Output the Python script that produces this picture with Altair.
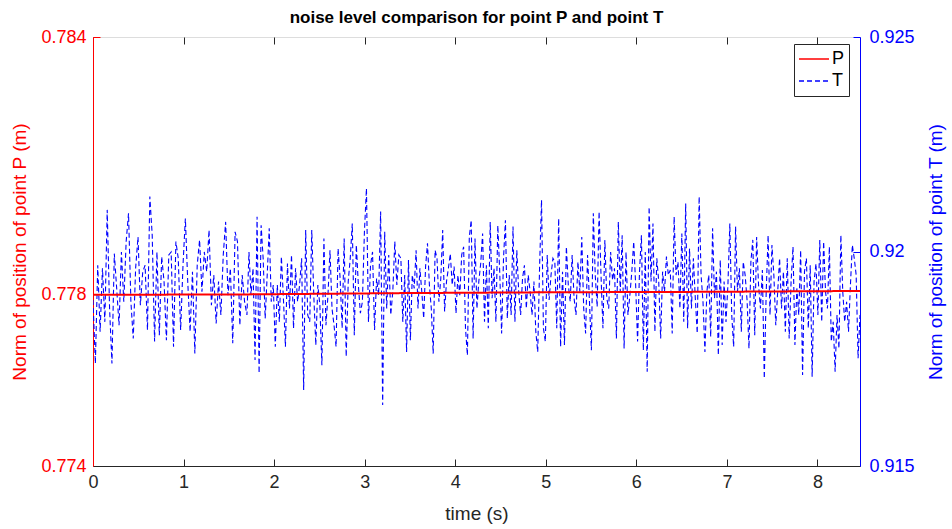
import altair as alt
import numpy as np
import pandas as pd

chart_title = "noise level comparison for point P and point T"
x_title = "time (s)"
left_title = "Norm of position of point P (m)"
right_title = "Norm of position of point T (m)"

# time span of each read segment (s)
seg_bounds = [0.0, 1.70, 3.40, 5.10, 6.80, 8.47]

# Norm of position of point T (m), read segment by segment
T_seg1 = [0.91887, 0.91739, 0.91968, 0.91813, 0.91961, 0.91836, 0.92097, 0.91867, 0.91739, 0.91995,
          0.91914, 0.91828, 0.91999, 0.91883, 0.92023, 0.92089, 0.91883, 0.91797, 0.91961, 0.92034,
          0.91875, 0.91953, 0.91968, 0.91817, 0.92128, 0.92038, 0.91790, 0.91999, 0.91805, 0.91988,
          0.91930, 0.91793, 0.91992, 0.91999, 0.91778, 0.92023, 0.91984, 0.91817, 0.91968, 0.92077,
          0.91930, 0.91813, 0.91953, 0.91762, 0.91968, 0.92027, 0.91906, 0.91999, 0.91953, 0.92050,
          0.91875, 0.91945, 0.91832, 0.91930, 0.91852, 0.91992, 0.92069, 0.91898, 0.91961, 0.91786,
          0.92046, 0.92023, 0.91828, 0.91945, 0.91883]
T_seg2 = [0.91852, 0.91999, 0.91898, 0.91961, 0.91747, 0.92081, 0.91716, 0.92061, 0.91984, 0.91844,
          0.91945, 0.92054, 0.91883, 0.91922, 0.91778, 0.91922, 0.91836, 0.91988, 0.91891, 0.91778,
          0.91972, 0.91867, 0.91992, 0.91821, 0.91961, 0.91883, 0.91922, 0.91984, 0.91677, 0.92050,
          0.91852, 0.91836, 0.92050, 0.91898, 0.91782, 0.91922, 0.91875, 0.91735, 0.92030, 0.91828,
          0.91898, 0.92003, 0.91867, 0.91828, 0.91778, 0.92007, 0.91937, 0.91821, 0.92030, 0.91755,
          0.91930, 0.91984, 0.92065, 0.91805, 0.92015, 0.91922, 0.91856, 0.91883, 0.92046, 0.92147,
          0.91836, 0.91968, 0.91999, 0.91817, 0.91937, 0.91898, 0.92093, 0.91642, 0.92046, 0.91867,
          0.91992, 0.91852, 0.91906, 0.92023, 0.91922, 0.91992]
T_seg3 = [0.91984, 0.91836, 0.91945, 0.91766, 0.91980, 0.91793, 0.91945, 0.91914, 0.92003, 0.91867,
          0.91961, 0.91906, 0.91844, 0.91965, 0.92019, 0.91922, 0.91867, 0.91762, 0.92003, 0.91984,
          0.91883, 0.91937, 0.92050, 0.91860, 0.91930, 0.91961, 0.91995, 0.91922, 0.91965, 0.91856,
          0.91945, 0.91898, 0.91992, 0.92011, 0.91821, 0.91758, 0.92034, 0.92073, 0.91797, 0.92030,
          0.91867, 0.91930, 0.91972, 0.92042, 0.91836, 0.91968, 0.91821, 0.92069, 0.91891, 0.91961,
          0.91836, 0.92061, 0.91953, 0.91809, 0.91984, 0.92073, 0.91844, 0.91945, 0.91852, 0.92058,
          0.91836, 0.92003, 0.91906, 0.91852, 0.91937, 0.91968, 0.91867, 0.91945, 0.91906, 0.91852,
          0.91930, 0.91813, 0.91766, 0.91968, 0.92120, 0.91821, 0.91790, 0.91992, 0.91887, 0.91945,
          0.91984]
T_seg4 = [0.91976, 0.91821, 0.92077, 0.91778, 0.91953, 0.91782, 0.92011, 0.91922, 0.91883, 0.91992,
          0.91891, 0.91852, 0.91976, 0.91906, 0.92034, 0.91867, 0.91809, 0.91992, 0.91883, 0.91770,
          0.92089, 0.91945, 0.91871, 0.92093, 0.91945, 0.91821, 0.92027, 0.91891, 0.91867, 0.91999,
          0.91933, 0.91961, 0.91797, 0.92069, 0.91906, 0.92038, 0.91774, 0.91999, 0.91852, 0.91898,
          0.91953, 0.92023, 0.91922, 0.91790, 0.91953, 0.92038, 0.91770, 0.91999, 0.91720, 0.92104,
          0.91930, 0.92065, 0.91813, 0.91984, 0.91930, 0.91797, 0.91953, 0.91906, 0.91988, 0.91945,
          0.91957, 0.91809, 0.92081, 0.91945, 0.91976, 0.91867, 0.92042, 0.91836, 0.92112, 0.91821,
          0.92007, 0.91867, 0.91984, 0.91891, 0.91809, 0.92128, 0.91945, 0.91883, 0.91766, 0.91906]
T_seg5 = [0.91945, 0.91801, 0.92054, 0.91891, 0.91953, 0.91758, 0.91980, 0.91782, 0.91930, 0.91836,
          0.91922, 0.92065, 0.91852, 0.91778, 0.92058, 0.91906, 0.91961, 0.91813, 0.91976, 0.91945,
          0.91887, 0.91774, 0.91976, 0.92027, 0.91805, 0.92034, 0.91922, 0.91867, 0.91957, 0.91704,
          0.91906, 0.92038, 0.91852, 0.92015, 0.91945, 0.91828, 0.91906, 0.91984, 0.91867, 0.91953,
          0.91813, 0.91984, 0.91797, 0.91930, 0.92011, 0.91782, 0.91914, 0.91852, 0.92003, 0.91712,
          0.91953, 0.91984, 0.91821, 0.91968, 0.91708, 0.91930, 0.91972, 0.91852, 0.92027, 0.91836,
          0.92023, 0.91906, 0.91867, 0.92011, 0.91790, 0.91836, 0.91720, 0.91852, 0.91774, 0.92038,
          0.91906, 0.91836, 0.91883, 0.91813, 0.91922, 0.92015, 0.91984, 0.91945, 0.91751, 0.91852]

# Norm of position of point P (m): slow drift
P_time = [0.0, 1.70, 3.40, 5.10, 6.80, 8.47]
P_values = [0.77799, 0.77800, 0.77803, 0.77805, 0.77806, 0.77808]

x_ticks = [0, 1, 2, 3, 4, 5, 6, 7, 8]
left_ticks = [0.774, 0.778, 0.784]
right_ticks = [0.915, 0.92, 0.925]
series_names = ["P", "T"]
series_colors = ["#ff0000", "#0000ff"]

# build tables
segs = [T_seg1, T_seg2, T_seg3, T_seg4, T_seg5]
t_list, v_list = [], []
for k, seg in enumerate(segs):
    last = k == len(segs) - 1
    ts = np.linspace(seg_bounds[k], seg_bounds[k + 1], len(seg), endpoint=last)
    t_list.extend(ts.tolist())
    v_list.extend(seg)
dfT = pd.DataFrame({"t": t_list, "v": v_list, "series": "T"})
dfP = pd.DataFrame({"t": P_time, "v": P_values, "series": "P"})

FONT = "Liberation Sans"
W, H = 767, 429
xmax = seg_bounds[-1]

x_enc = alt.X(
    "t:Q",
    scale=alt.Scale(domain=[0, xmax], nice=False, zero=False),
    axis=alt.Axis(
        values=x_ticks, title=x_title, format="d", labelFlush=False,
        labelFont=FONT, labelFontSize=18, labelColor="#262626", labelPadding=7,
        titleFont=FONT, titleFontSize=19, titleFontWeight="normal", titleColor="#262626",
        titlePadding=13, domainColor="#262626", ticks=False,
        grid=True, gridColor="#262626", gridDash=[7, 415, 7], gridWidth=1,
    ),
)

legend_common = dict(
    title=None, orient="none", legendX=701, legendY=7,
    strokeColor="#262626", fillColor="white", padding=4,
    symbolType="stroke", symbolSize=900, symbolStrokeWidth=1.5,
    labelFont=FONT, labelFontSize=18, labelColor="black",
    clipHeight=22, rowPadding=0, labelOffset=2,
)
color_enc = alt.Color(
    "series:N",
    scale=alt.Scale(domain=series_names, range=series_colors),
    legend=alt.Legend(**legend_common),
)
dash_enc = alt.StrokeDash(
    "series:N",
    scale=alt.Scale(domain=series_names, range=[[1, 0], [5, 3]]),
    legend=alt.Legend(**legend_common),
)

layer_T = alt.Chart(dfT).mark_line(strokeWidth=1.1, clip=True).encode(
    x=x_enc,
    y=alt.Y(
        "v:Q",
        scale=alt.Scale(domain=[0.915, 0.925], nice=False, zero=False),
        axis=alt.Axis(
            orient="right", values=right_ticks, format=".3~f", title=right_title,
            labelFont=FONT, labelFontSize=18, labelColor="#0000ff", labelPadding=9,
            titleFont=FONT, titleFontSize=19, titleFontWeight="normal", titleColor="#0000ff",
            titleAngle=270, titleBaseline="bottom", titlePadding=31,
            domainColor="#0000ff", ticks=False,
            grid=True, gridColor="#0000ff", gridDash=[7, 760], gridWidth=1,
        ),
    ),
    color=color_enc,
    strokeDash=dash_enc,
)

layer_P = alt.Chart(dfP).mark_line(strokeWidth=2, clip=True).encode(
    x=x_enc,
    y=alt.Y(
        "v:Q",
        scale=alt.Scale(domain=[0.774, 0.784], nice=False, zero=False),
        axis=alt.Axis(
            orient="left", values=left_ticks, format=".3f", title=left_title,
            labelFont=FONT, labelFontSize=18, labelColor="#ff0000", labelPadding=7,
            titleFont=FONT, titleFontSize=19, titleFontWeight="normal", titleColor="#ff0000",
            titlePadding=11, domainColor="#ff0000", ticks=False,
            grid=True, gridColor="#ff0000", gridDash=[7, 760], gridWidth=1,
        ),
    ),
    color=color_enc,
    strokeDash=dash_enc,
)

chart = (
    alt.layer(layer_T, layer_P)
    .resolve_scale(y="independent")
    .properties(
        width=W, height=H,
        padding={"left": 93, "top": 37, "right": 92, "bottom": 63},
        autosize=alt.AutoSizeParams(type="none"),
        title=alt.TitleParams(
            chart_title, font=FONT, fontSize=17, fontWeight="bold", color="black",
            anchor="middle", offset=1,
        ),
    )
    .configure_view(stroke="#262626", strokeWidth=1)
    .configure(background="white")
)

chart.save("out.html", embed_options={"renderer": "svg", "actions": False})
